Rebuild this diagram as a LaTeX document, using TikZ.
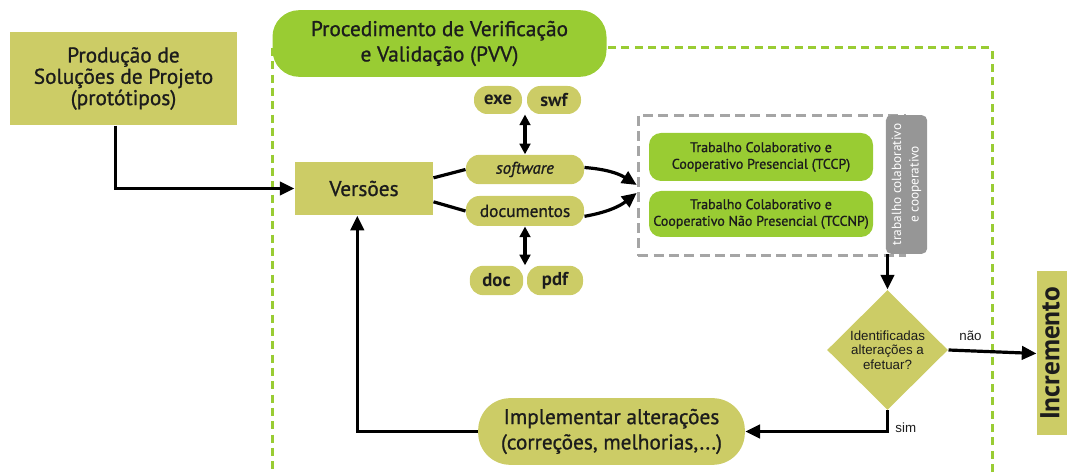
\documentclass[tikz,border=0pt]{standalone}
\usepackage{fontspec}
\setmainfont{PT Sans}
\newfontfamily\semib{PT Sans}[FakeBold=1]
\newfontfamily\arialfont{Liberation Sans}
\usetikzlibrary{arrows.meta,shapes.geometric}

\definecolor{oliveFill}{RGB}{204,204,102}
\definecolor{pvvGreen}{RGB}{153,204,51}
\definecolor{dashGray}{RGB}{165,165,165}
\definecolor{labelGray}{RGB}{150,150,150}
\definecolor{textDark}{RGB}{28,28,28}

\tikzset{every picture/.style={line width=0.75pt}}
\tikzset{
  oliveBox/.style={fill=oliveFill, draw=none, text=textDark, align=center, inner sep=0pt},
  greenBox/.style={fill=pvvGreen, draw=none, text=textDark, align=center, inner sep=0pt},
  pillBox/.style={oliveBox, rounded corners=10pt, font=\bfseries\fontsize{14}{16}\selectfont},
  bigText/.style={font=\semib\fontsize{16}{19}\selectfont},
  flowArrow/.style={line width=2.4pt, -{Triangle[length=11pt,width=10pt]}},
  flowLine/.style={line width=2.4pt},
  bothArrow/.style={line width=2.4pt, {Triangle[length=8pt,width=8pt]}-{Triangle[length=8pt,width=8pt]}},
  greenDash/.style={draw=pvvGreen, line width=2.25pt, dash pattern=on 6pt off 4pt},
  grayDash/.style={draw=dashGray, line width=2.25pt, dash pattern=on 7.5pt off 4pt},
  smallLabel/.style={font=\arialfont\fontsize{10}{12}\selectfont, text=textDark, inner sep=0.75pt},
}

\begin{document}
\begin{tikzpicture}[x=0.75pt,y=0.75pt,yscale=-1,xscale=1]
\useasboundingbox (0,0) rectangle (1067,473);

%Shape: Rectangle (frame of the PVV)
\draw [greenDash] (272,48) rectangle (992,500);

%Shape: Rectangle
\draw (123.5,78.5) node (prod) [oliveBox, bigText, font=\semib\fontsize{16}{16}\selectfont, minimum width=170pt, minimum height=70pt] {Produção de\\Soluções de Projeto\\(protótipos)};
%Shape: Rounded Rect
\draw (439.5,43.5) node (pvv) [greenBox, bigText, rounded corners=20pt, minimum width=250.5pt, minimum height=50pt] {Procedimento de Verificação\\e Validação (PVV)};
%Shape: Rectangle
\draw (364,188.5) node (ver) [oliveBox, bigText, minimum width=103.5pt, minimum height=40pt] {Versões};

%Shape: Pills
\draw (498,100) node (exe) [pillBox, minimum width=36pt, minimum height=21pt] {exe};
\draw (554,100) node (swf) [pillBox, minimum width=40.5pt, minimum height=21pt] {swf};
\draw (525,169.5) node (sw) [pillBox, minimum width=88.5pt, minimum height=22pt, font=\semib\itshape\fontsize{12.5}{14}\selectfont] {software};
\draw (525,211) node (docs) [pillBox, minimum width=88.5pt, minimum height=22.5pt, font=\semib\fontsize{13}{14}\selectfont] {documentos};
\draw (496.5,280.5) node (doc) [pillBox, minimum width=40pt, minimum height=22pt] {doc};
\draw (555,280.5) node (pdf) [pillBox, minimum width=42pt, minimum height=22pt] {pdf};

%Shape: Rectangle (dashed group)
\draw (771.5,185.5) node (grp) [grayDash, minimum width=200pt, minimum height=105.5pt, inner sep=0pt] {};
%Shape: Rounded Rect
\draw (761,157) node (tccp) [greenBox, rounded corners=9pt, minimum width=168pt, minimum height=36pt, font=\semib\fontsize{10.5}{12.5}\selectfont] {Trabalho Colaborativo e\\Cooperativo Presencial (TCCP)};
\draw (761,214) node (tccnp) [greenBox, rounded corners=9pt, minimum width=168pt, minimum height=34.5pt, font=\semib\fontsize{10.5}{12.5}\selectfont] {Trabalho Colaborativo e\\Cooperativo Não Presencial (TCCNP)};
%Shape: Rectangle (gray label)
\draw (906.5,184.5) node (lab) [fill=labelGray, rounded corners=4pt, minimum width=31pt, minimum height=104pt, inner sep=0pt] {};
% Text Node
\draw (lab.center) node (labtext) [rotate=90, text=white, align=center, inner sep=0pt, font=\fontsize{10}{13}\selectfont] {trabalho colaborativo\\e cooperativo};

%Shape: Diamond
\draw (887.5,350) node (dec) [diamond, aspect=1, fill=oliveFill, inner sep=0pt, minimum width=90.75pt, minimum height=90pt, align=center, font=\arialfont\fontsize{10}{11}\selectfont, text=textDark] {Identificadas\\alterações a\\efetuar?};
%Shape: Rectangle
\draw (1056,353.5) node (inc) [oliveBox, minimum width=28.5pt, minimum height=123pt] {};
% Text Node
\draw ([xshift=-4.5pt]inc.center) node (inctext) [rotate=90, text=textDark, inner sep=0pt, font=\bfseries\fontsize{20.5}{24}\selectfont] {Incremento};
%Shape: Rounded Rect
\draw (611.5,431.5) node (impl) [oliveBox, bigText, rounded corners=24pt, minimum width=200pt, minimum height=50pt] {Implementar alterações\\(correções, melhorias,...)};

%Straight Lines
\draw [flowArrow] ([xshift=-6pt]prod.south) |- (ver.west);
\draw [flowLine] ([yshift=-8pt]ver.east) -- (sw.west);
\draw [flowLine] ([yshift=10pt]ver.east) -- (docs.west);
\draw [bothArrow] (sw.north) -- (sw.north |- exe.south);
\draw [bothArrow] (docs.south) -- (docs.south |- doc.north);
%Curve Lines
\draw [flowArrow] ([yshift=-1.5pt]sw.east) to [bend right=14] ([yshift=-0.4pt]grp.west);
\draw [flowArrow] ([yshift=4pt]docs.east) to [bend left=14] ([yshift=5.6pt]grp.west);
%Straight Lines
\draw [flowArrow] (dec.north |- lab.south) -- (dec.north);
\draw [flowArrow] (dec.east) -- node [pos=0.25, above, smallLabel, yshift=6pt] {não} (inc.west);
\draw [flowArrow] (dec.south) |- node [pos=0.4, right, smallLabel, xshift=4pt] {sim} (impl.east);
\draw [flowArrow] (impl.west) -| ([xshift=-5pt]ver.south);

\end{tikzpicture}
\end{document}
